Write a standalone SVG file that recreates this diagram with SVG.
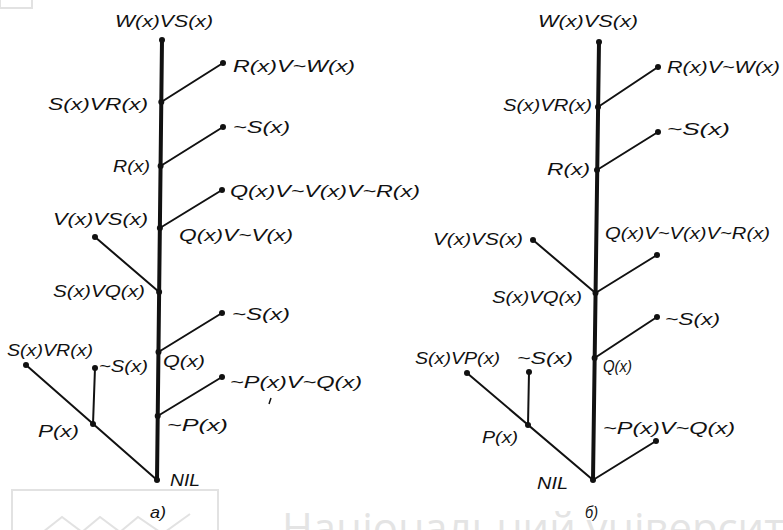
<svg xmlns="http://www.w3.org/2000/svg" width="783" height="530" viewBox="0 0 783 530">
<style>
.t{font-family:"Liberation Sans",Arial,sans-serif;font-style:italic;font-size:17px;fill:#111}
.trunk{stroke:#111;stroke-width:4;fill:none;stroke-linecap:round}
.br{stroke:#111;stroke-width:2;fill:none;stroke-linecap:round}
.dot{fill:#111}
.wm{fill:none;stroke:#e2e2e2;stroke-width:2}
.wmt{font-family:"Open Sans","Noto Sans",sans-serif;font-size:42px;fill:#e4e4e4}
</style>
<g id="watermark">
<rect class="wm" x="0" y="-2" width="32" height="10"/>
<rect class="wm" x="12" y="490" width="206" height="50"/>
<polyline class="wm" points="43,532 62,517 82,532 100,517 120,532 138,517 160,532"/>
<line class="wm" x1="165" y1="532" x2="190" y2="514"/>
<text class="wmt" x="282" y="543" textLength="545" lengthAdjust="spacingAndGlyphs">Національний університет</text>
</g>
<g id="connectors">
<path class="trunk" d="M162,40 L157,480"/>
<path class="br" d="M161.3,102 L223,63 M160.6,166 L223,127 M159.9,228 L222,190 M95,237 L159.1,292 M158.5,352 L222,313 M157.7,416 L222,377 M157,480 L26,365 M93,424 L95,368"/>
<path d="M271,398 L269,404" stroke="#111" stroke-width="1.5"/>
<path class="trunk" d="M599,42 L593,480"/>
<path class="br" d="M598,107 L658,67 M597,170 L658,132 M595.5,293 L533,240 M595.5,293 L657,255 M594.6,358 L657,317 M593,480 L656,441 M593,480 L467,373 M528,425 L529,372"/>
</g>
<g id="tree-a">
<g id="a-top"><circle class="dot" cx="162" cy="40" r="3"/><text class="t" x="115" y="27" textLength="98" lengthAdjust="spacingAndGlyphs">W(x)VS(x)</text></g>
<g id="a-rvw"><circle class="dot" cx="223" cy="63" r="3"/><text class="t" x="233" y="72" textLength="122" lengthAdjust="spacingAndGlyphs">R(x)V~W(x)</text></g>
<g id="a-svr"><circle class="dot" cx="161.3" cy="102" r="3"/><text class="t" x="48" y="110" textLength="100" lengthAdjust="spacingAndGlyphs">S(x)VR(x)</text></g>
<g id="a-ns1"><circle class="dot" cx="223" cy="127" r="3"/><text class="t" x="233" y="133" textLength="57" lengthAdjust="spacingAndGlyphs">~S(x)</text></g>
<g id="a-r"><circle class="dot" cx="160.6" cy="166" r="3"/><text class="t" x="113" y="172" textLength="37" lengthAdjust="spacingAndGlyphs">R(x)</text></g>
<g id="a-qvvr"><circle class="dot" cx="222" cy="190" r="3"/><text class="t" x="230" y="197" textLength="190" lengthAdjust="spacingAndGlyphs">Q(x)V~V(x)V~R(x)</text></g>
<g id="a-qvv"><circle class="dot" cx="159.9" cy="228" r="3"/><text class="t" x="179" y="241" textLength="114" lengthAdjust="spacingAndGlyphs">Q(x)V~V(x)</text></g>
<g id="a-vvs"><circle class="dot" cx="95" cy="237" r="3"/><text class="t" x="53" y="225" textLength="95" lengthAdjust="spacingAndGlyphs">V(x)VS(x)</text></g>
<g id="a-svq"><circle class="dot" cx="159.1" cy="292" r="3"/><text class="t" x="53" y="297" textLength="92" lengthAdjust="spacingAndGlyphs">S(x)VQ(x)</text></g>
<g id="a-ns2"><circle class="dot" cx="222" cy="313" r="3"/><text class="t" x="232" y="320" textLength="58" lengthAdjust="spacingAndGlyphs">~S(x)</text></g>
<g id="a-q"><circle class="dot" cx="158.5" cy="352" r="3"/><text class="t" x="163" y="367" textLength="42" lengthAdjust="spacingAndGlyphs">Q(x)</text></g>
<g id="a-npvnq"><circle class="dot" cx="222" cy="377" r="3"/><text class="t" x="230" y="388" textLength="132" lengthAdjust="spacingAndGlyphs">~P(x)V~Q(x)</text></g>
<g id="a-np"><circle class="dot" cx="157.7" cy="416" r="3"/><text class="t" x="167" y="431" textLength="61" lengthAdjust="spacingAndGlyphs">~P(x)</text></g>
<g id="a-nil"><circle class="dot" cx="157" cy="480" r="3"/><text class="t" x="170" y="486" textLength="30" lengthAdjust="spacingAndGlyphs">NIL</text></g>
<g id="a-svr2"><circle class="dot" cx="26" cy="365" r="3"/><text class="t" x="7" y="356" textLength="86" lengthAdjust="spacingAndGlyphs">S(x)VR(x)</text></g>
<g id="a-ns3"><circle class="dot" cx="95" cy="368" r="3"/><text class="t" x="99" y="372" textLength="49" lengthAdjust="spacingAndGlyphs">~S(x)</text></g>
<g id="a-p"><circle class="dot" cx="93" cy="424" r="3"/><text class="t" x="38" y="437" textLength="41" lengthAdjust="spacingAndGlyphs">P(x)</text></g>
<text class="t" x="150" y="518" textLength="16" lengthAdjust="spacingAndGlyphs">а)</text>
</g>
<g id="tree-b">
<g id="b-top"><circle class="dot" cx="599" cy="42" r="3"/><text class="t" x="538" y="27" textLength="100" lengthAdjust="spacingAndGlyphs">W(x)VS(x)</text></g>
<g id="b-rvw"><circle class="dot" cx="658" cy="67" r="3"/><text class="t" x="667" y="73" textLength="113" lengthAdjust="spacingAndGlyphs">R(x)V~W(x)</text></g>
<g id="b-svr"><circle class="dot" cx="598" cy="107" r="3"/><text class="t" x="503" y="111" textLength="89" lengthAdjust="spacingAndGlyphs">S(x)VR(x)</text></g>
<g id="b-ns1"><circle class="dot" cx="658" cy="132" r="3"/><text class="t" x="667" y="135" textLength="63" lengthAdjust="spacingAndGlyphs">~S(x)</text></g>
<g id="b-r"><circle class="dot" cx="597" cy="170" r="3"/><text class="t" x="547" y="175" textLength="43" lengthAdjust="spacingAndGlyphs">R(x)</text></g>
<g id="b-vvs"><circle class="dot" cx="533" cy="240" r="3"/><text class="t" x="433" y="245" textLength="90" lengthAdjust="spacingAndGlyphs">V(x)VS(x)</text></g>
<g id="b-qvvr"><circle class="dot" cx="657" cy="255" r="3"/><text class="t" x="605" y="239" textLength="165" lengthAdjust="spacingAndGlyphs">Q(x)V~V(x)V~R(x)</text></g>
<g id="b-svq"><circle class="dot" cx="595.5" cy="293" r="3"/><text class="t" x="492" y="303" textLength="90" lengthAdjust="spacingAndGlyphs">S(x)VQ(x)</text></g>
<g id="b-ns2"><circle class="dot" cx="657" cy="317" r="3"/><text class="t" x="665" y="325" textLength="55" lengthAdjust="spacingAndGlyphs">~S(x)</text></g>
<g id="b-q"><circle class="dot" cx="594.6" cy="358" r="3"/><text class="t" x="603" y="372" textLength="29" lengthAdjust="spacingAndGlyphs">Q(x)</text></g>
<g id="b-svp"><circle class="dot" cx="467" cy="373" r="3"/><text class="t" x="415" y="364" textLength="85" lengthAdjust="spacingAndGlyphs">S(x)VP(x)</text></g>
<g id="b-ns3"><circle class="dot" cx="529" cy="372" r="3"/><text class="t" x="517" y="364" textLength="56" lengthAdjust="spacingAndGlyphs">~S(x)</text></g>
<g id="b-p"><circle class="dot" cx="528" cy="425" r="3"/><text class="t" x="482" y="443" textLength="36" lengthAdjust="spacingAndGlyphs">P(x)</text></g>
<g id="b-npvnq"><circle class="dot" cx="656" cy="441" r="3"/><text class="t" x="603" y="434" textLength="132" lengthAdjust="spacingAndGlyphs">~P(x)V~Q(x)</text></g>
<g id="b-nil"><circle class="dot" cx="593" cy="480" r="3"/><text class="t" x="537" y="489" textLength="31" lengthAdjust="spacingAndGlyphs">NIL</text></g>
<text class="t" x="585" y="518" textLength="13" lengthAdjust="spacingAndGlyphs">б)</text>
</g>
</svg>
